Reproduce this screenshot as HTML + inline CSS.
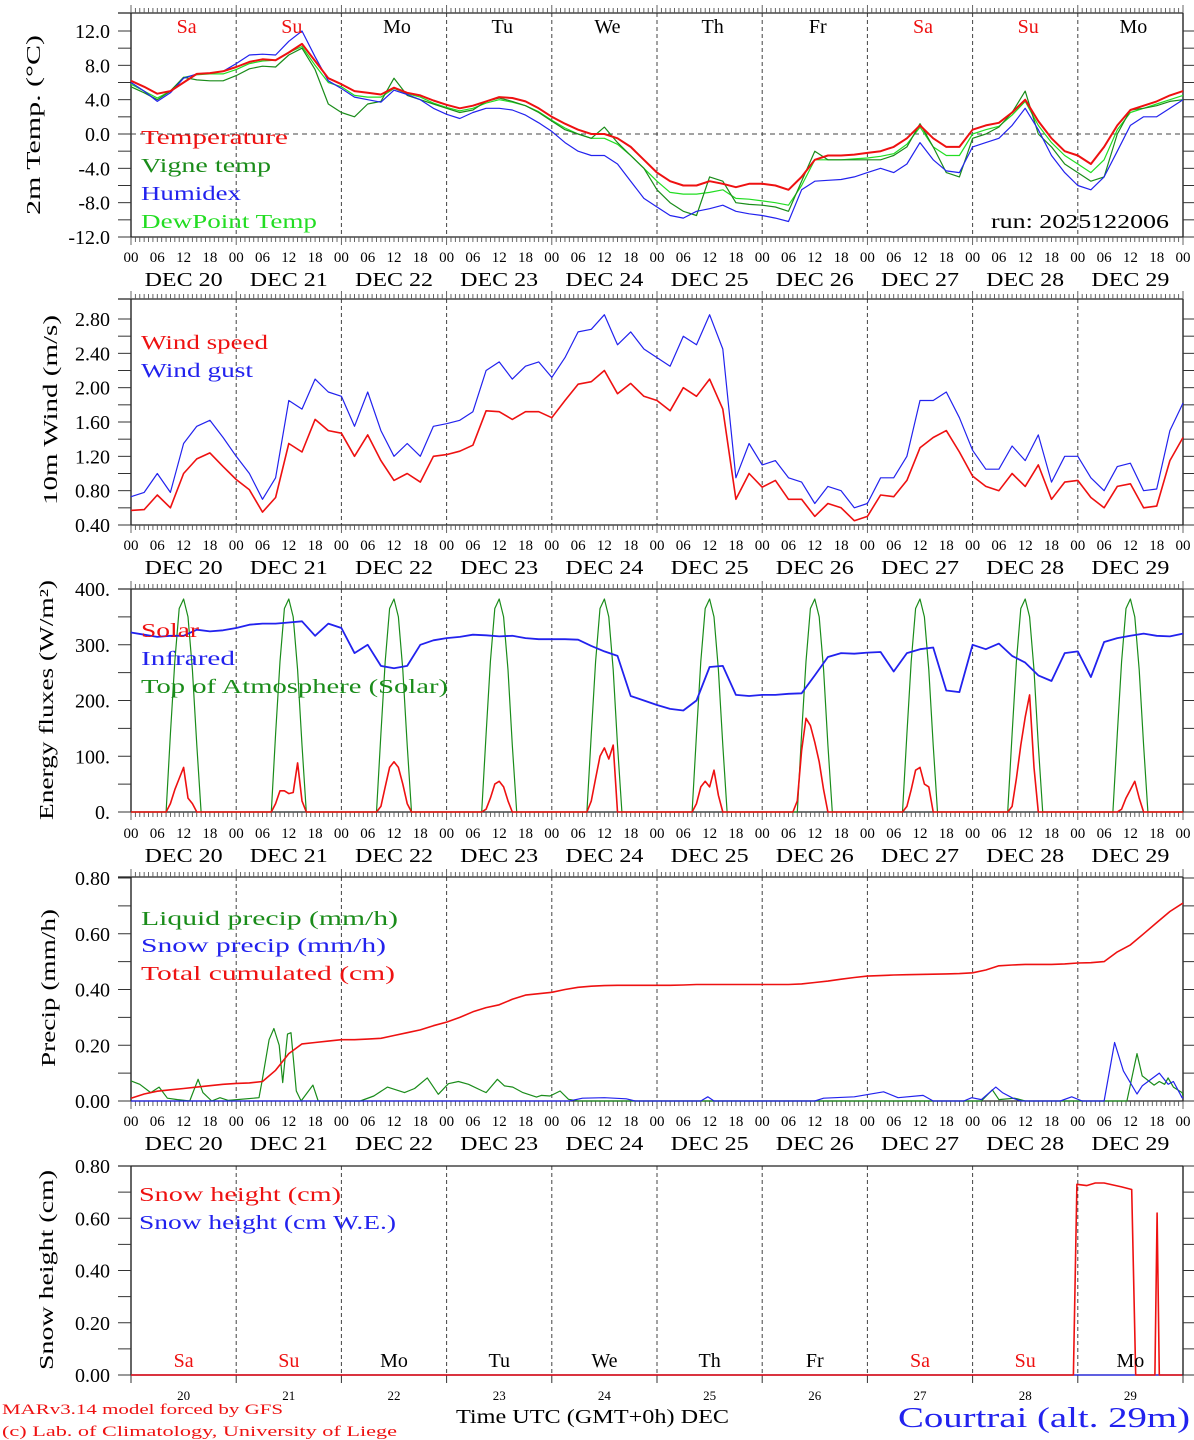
<!DOCTYPE html>
<html><head><meta charset="utf-8"><title>MAR meteogram Courtrai</title>
<style>
html,body{margin:0;padding:0;background:#fff;}
svg{display:block;font-family:"Liberation Serif","DejaVu Serif",serif;}
</style></head>
<body>
<svg id="chart" xmlns="http://www.w3.org/2000/svg" width="1194" height="1440" viewBox="0 0 1194 1440"></svg>
<script>
// ---------- DATA ----------
const dayNames = ["Sa","Su","Mo","Tu","We","Th","Fr","Sa","Su","Mo"];
const dayNums = ["20","21","22","23","24","25","26","27","28","29"];
const hourLabels = ["00","06","12","18"];
// 3-hourly series, h = 0,3,...,240
const temperature = [6.2,5.5,4.7,5.0,6.0,7.0,7.1,7.3, 7.8,8.4,8.7,8.6,9.5,10.5,8.5,6.5, 5.8,5.0,4.8,4.6,5.4,4.8,4.5,3.9, 3.4,3.0,3.3,3.8,4.3,4.2,3.8,3.0, 2.0,1.2,0.5,0.0,0.0,-0.5,-1.5,-3.0, -4.5,-5.5,-6.0,-6.0,-5.5,-5.8,-6.2,-5.8, -5.8,-6.0,-6.5,-5.0,-3.0,-2.5,-2.5,-2.4, -2.2,-2.0,-1.5,-0.5,1.0,-0.5,-1.5,-1.5, 0.5,1.0,1.3,2.5,4.0,1.5,-0.5,-2.0, -2.5,-3.5,-1.5,1.0,2.8,3.3,3.8,4.5,5.0];
const vigneTemp = [5.5,4.8,4.0,5.0,6.6,6.3,6.2,6.2, 6.8,7.6,7.9,7.8,9.2,10.0,7.5,3.5, 2.5,2.0,3.5,3.8,6.5,4.5,4.0,3.5, 3.0,2.5,2.8,3.8,4.2,3.8,3.3,2.5, 1.5,0.5,0.0,-0.5,0.8,-1.0,-2.5,-4.0, -6.5,-8.0,-9.0,-9.5,-5.0,-5.5,-8.0,-8.2, -8.3,-8.5,-9.0,-5.5,-2.0,-3.0,-3.0,-3.0, -3.0,-3.0,-2.5,-1.5,1.2,-1.5,-4.5,-5.0, -0.5,0.0,0.8,2.5,5.0,0.0,-1.5,-3.5, -4.5,-5.5,-5.0,0.0,2.8,3.0,3.3,3.8,4.0];
const humidex = [6.0,5.0,3.8,4.8,6.5,7.0,7.1,7.3, 8.2,9.2,9.3,9.2,10.8,12.0,9.0,6.2, 5.3,4.3,4.0,3.7,5.1,4.6,4.0,3.0, 2.3,1.8,2.5,3.0,3.0,2.8,2.2,1.3, 0.3,-1.0,-2.0,-2.5,-2.5,-3.5,-5.5,-7.5, -8.5,-9.5,-9.8,-9.0,-8.7,-8.3,-9.0,-9.3, -9.5,-9.8,-10.2,-6.5,-5.5,-5.4,-5.3,-5.0, -4.5,-4.0,-4.5,-3.5,-1.0,-3.0,-4.3,-4.5, -1.5,-1.0,-0.5,1.0,3.0,0.5,-2.5,-4.5, -6.0,-6.5,-5.0,-2.0,1.0,2.0,2.0,3.0,4.0];
const dewPoint = [5.8,5.0,4.2,5.0,6.6,6.9,7.0,7.0, 7.5,8.2,8.5,8.6,9.5,10.2,8.0,6.0, 5.5,4.5,4.3,4.3,5.3,4.7,4.3,3.6, 3.1,2.7,3.0,3.6,4.0,3.7,3.3,2.6, 1.6,0.7,0.0,-0.5,-0.5,-1.2,-2.5,-4.0, -5.5,-6.8,-7.0,-7.0,-6.8,-6.5,-7.5,-7.6, -7.8,-8.0,-8.3,-6.0,-3.0,-3.0,-3.0,-2.9, -2.8,-2.6,-2.3,-1.2,0.8,-1.5,-2.5,-2.5, 0.0,0.5,0.9,2.2,3.8,1.0,-1.0,-2.5, -3.5,-4.5,-3.0,0.5,2.5,3.0,3.5,4.0,4.5];
const windSpeed = [0.57,0.58,0.75,0.60,1.0,1.17,1.24,1.08, 0.93,0.81,0.55,0.72,1.35,1.25,1.63,1.5, 1.47,1.2,1.45,1.15,0.92,1.0,0.9,1.2, 1.22,1.26,1.33,1.73,1.72,1.63,1.72,1.72, 1.65,1.85,2.04,2.07,2.2,1.93,2.05,1.9, 1.85,1.73,2.0,1.9,2.1,1.75,0.7,1.0, 0.84,0.92,0.70,0.7,0.5,0.65,0.6,0.45, 0.5,0.75,0.73,0.92,1.3,1.42,1.5,1.25, 0.97,0.85,0.8,1.0,0.85,1.1,0.7,0.9, 0.92,0.72,0.6,0.85,0.88,0.6,0.62,1.15,1.42];
const windGust = [0.73,0.78,1.0,0.78,1.35,1.55,1.62,1.42, 1.2,1.0,0.70,0.95,1.85,1.75,2.1,1.95, 1.9,1.55,1.95,1.5,1.2,1.35,1.2,1.55, 1.58,1.62,1.72,2.2,2.3,2.1,2.25,2.3, 2.12,2.35,2.65,2.68,2.85,2.5,2.65,2.45, 2.35,2.25,2.6,2.5,2.85,2.45,0.95,1.35, 1.1,1.15,0.95,0.9,0.65,0.85,0.8,0.6, 0.65,0.95,0.95,1.2,1.85,1.85,1.95,1.65, 1.27,1.05,1.05,1.32,1.15,1.45,0.9,1.2, 1.2,0.95,0.8,1.08,1.12,0.8,0.82,1.5,1.82];
const infrared = [322,318,314,316,316,327,324,326, 330,336,338,338,340,342,316,338, 330,285,300,262,258,262,300,308, 312,314,318,317,315,316,312,310, 310,310,309,298,288,280,208,200, 192,185,182,200,260,262,210,208, 210,210,212,213,245,278,285,284, 286,287,252,285,292,295,218,215, 300,292,302,280,268,245,235,285, 288,242,305,312,316,320,316,315,320];
// solar: hourly values for hours 8..16 of each day
const solarDays = [[0,15,40,60,80,25,15,0,0],[0,15,38,38,33,35,88,20,0],[0,10,45,80,90,80,50,15,0],[0,5,25,50,55,45,20,0,0],[0,20,60,100,115,95,120,0,0],[0,15,45,55,45,75,30,0,0],[20,110,168,155,125,90,40,0,0],[0,10,40,75,80,50,45,0,0],[0,10,60,120,170,210,80,0,0],[0,0,5,25,40,55,25,0,0]];
const toaProfile = [0,140,270,365,382,350,255,120,0]; // hours 8..16
const totalCum = [0.01,0.025,0.035,0.04,0.045,0.05,0.055,0.06, 0.063,0.065,0.07,0.11,0.17,0.205,0.21,0.215, 0.22,0.22,0.222,0.225,0.235,0.245,0.255,0.27, 0.283,0.30,0.32,0.335,0.345,0.365,0.38,0.385, 0.39,0.40,0.408,0.412,0.414,0.415,0.415,0.415, 0.415,0.415,0.416,0.418,0.418,0.418,0.418,0.418, 0.418,0.418,0.418,0.42,0.425,0.43,0.437,0.443, 0.448,0.45,0.452,0.453,0.454,0.455,0.456,0.457, 0.46,0.47,0.485,0.488,0.49,0.49,0.49,0.492, 0.495,0.496,0.5,0.535,0.56,0.6,0.64,0.68,0.71];
const liqHours = [0,2,4.5,6.4,8.3,10.6,13.4,15.3,16.4,18.4,20.3,22.2,29.2,29.9,31.5,32.6,33.8,34.6,35.7,36.5,37.7,38.8,41.5,42.7,52.3,55.4,58.5,62.4,64.7,67.6,70.1,72.4,74.7,77,80.2,81,83.6,85.2,87.1,89.4,92.5,93.6,95.6,97.9,99.8,102,194,196.5,198,201.6,204,227.2,229.5,230.7,233.4,234.6,235.8,236.6,237.8,239.8,240];
const liqVals = [0.072,0.06,0.03,0.05,0.01,0.005,0,0.078,0.03,0,0.012,0.002,0.012,0.072,0.22,0.26,0.2,0.066,0.24,0.245,0.036,0,0.057,0,0,0.018,0.05,0.03,0.045,0.083,0.024,0.062,0.07,0.06,0.036,0.03,0.078,0.054,0.05,0.03,0.014,0.02,0.018,0.036,0.006,0,0,0.04,0.005,0.01,0,0,0.17,0.09,0.057,0.07,0.06,0.083,0.05,0.03,0.02];
const snowHours = [0,100,103,108,113,115,130,131.6,133,156,158,165,171.7,175,180.7,183,190,191.8,194,197.3,198.8,201.2,203,212,214.6,217,222,224.4,226.4,229.5,230.7,234.6,236.6,237.8,239.8,240];
const snowVals = [0,0,0.01,0.012,0.008,0,0,0.015,0,0,0.01,0.015,0.033,0.012,0.02,0,0,0.012,0.005,0.05,0.03,0.01,0,0,0.015,0,0,0.21,0.108,0.025,0.054,0.1,0.06,0.07,0.012,0.01];
const snowHHours = [0,215,215.8,218,220,222,226,228.3,229.2,233.6,234.1,234.6,239.8];
const snowHVals = [0,0,0.73,0.725,0.735,0.735,0.72,0.71,0,0,0.62,0,0];
const snowWEHours = [0,239.8];
const snowWEVals = [0,0];
const t1Ticks = [-12,-8,-4,0,4,8,12];
const t2Ticks = [0.4,0.8,1.2,1.6,2.0,2.4,2.8];
const t3Ticks = [0,100,200,300,400];
const t4Ticks = [0,0.2,0.4,0.6,0.8];

// ---------- DRAW ----------
const svg = document.getElementById('chart');
const NS = 'http://www.w3.org/2000/svg';
const X0 = 131, DW = 105.2;
const X = h => X0 + h*DW/24;
function el(tag, attrs, parent){ const e=document.createElementNS(NS,tag); for(const k in attrs) e.setAttribute(k,attrs[k]); (parent||svg).appendChild(e); return e; }
function txt(s, x, y, opts, name){
  const t = el('text', {x:x, y:y, 'font-size':opts.size||20, fill:opts.fill||'#000', 'text-anchor':opts.anchor||'start'});
  if(opts.len){ t.setAttribute('textLength', opts.len); t.setAttribute('lengthAdjust','spacingAndGlyphs'); }
  if(opts.rot) t.setAttribute('transform', 'rotate(-90 '+x+' '+y+')');
  t.textContent = s;
  
  
  return t;
}
function polyline(hours, vals, yf, color, w, name){
  const pts = hours.map((h,i)=> X(h).toFixed(1)+','+yf(vals[i]).toFixed(1)).join(' ');
  const p = el('polyline', {points:pts, fill:'none', stroke:color, 'stroke-width':w, 'stroke-linejoin':'round'});
  
  
  return p;
}
const h3 = temperature.map((_,i)=>i*3);

const panels = [
  {top:13, bot:237, y:v=>237-(v+12)*206/24, ticks:t1Ticks, minor:2, fmt:v=>v.toFixed(1), hl:257, dl:279, title:'2m Temp. (°C)', tx:40, ty:125, tlen:180},
  {top:299, bot:525, y:v=>525-(v-0.4)*85.83, ticks:t2Ticks, minor:0.2, fmt:v=>v.toFixed(2), hl:545, dl:567, title:'10m Wind (m/s)', tx:57, ty:410, tlen:190},
  {top:589, bot:812, y:v=>812-v*0.5575, ticks:t3Ticks, minor:50, fmt:v=>v.toFixed(0)+'.', hl:833, dl:855, title:'Energy fluxes (W/m²)', tx:53, ty:700, tlen:240},
  {top:877, bot:1101, y:v=>1101-v*278.75, ticks:t4Ticks, minor:0.1, fmt:v=>v.toFixed(2), hl:1121, dl:1143, title:'Precip (mm/h)', tx:55, ty:988, tlen:158},
  {top:1166, bot:1375, y:v=>1375-v*261.25, ticks:t4Ticks, minor:0.1, fmt:v=>v.toFixed(2), title:'Snow height (cm)', tx:53, ty:1270, tlen:200, last:true}
];

panels.forEach((p, pi)=>{
  const g = el('g', {});
  
  
  const R = X(240);
  for(let d=1; d<10; d++) el('line', {x1:X(d*24), x2:X(d*24), y1:p.top, y2:p.bot, stroke:'#444', 'stroke-width':1, 'stroke-dasharray':'4,3'}, g);
  el('line', {x1:X0, x2:X0, y1:p.top, y2:p.bot, stroke:'#666', 'stroke-width':2}, g);
  el('line', {x1:R, x2:R, y1:p.top, y2:p.bot, stroke:'#666', 'stroke-width':2}, g);
  el('line', {x1:118, x2:R, y1:p.top, y2:p.top, stroke:'#222', 'stroke-width':1.2}, g);
  el('line', {x1:X0, x2:R, y1:p.bot, y2:p.bot, stroke:'#222', 'stroke-width':1.2}, g);
  if(!p.last){
    for(let h=0; h<=240; h++){
      const L = (h%24===0)?8:5;
      el('line', {x1:X(h), x2:X(h), y1:p.top-L, y2:p.top, stroke:'#555', 'stroke-width':0.9}, g);
      el('line', {x1:X(h), x2:X(h), y1:p.bot, y2:p.bot+L, stroke:'#555', 'stroke-width':0.9}, g);
    }
  } else {
    for(let d=0; d<=10; d++) el('line', {x1:X(d*24), x2:X(d*24), y1:p.bot, y2:p.bot+8, stroke:'#333', 'stroke-width':1}, g);
  }
  for(let v=p.ticks[0]; v<=p.ticks[p.ticks.length-1]+1e-9; v+=p.minor){
    const y = p.y(v);
    el('line', {x1:118, x2:X0, y1:y, y2:y, stroke:'#333', 'stroke-width':1}, g);
    el('line', {x1:R, x2:R+11, y1:y, y2:y, stroke:'#333', 'stroke-width':1}, g);
  }
  p.ticks.forEach(v=>{ txt(p.fmt(v), 110, p.y(v)+7, {size:20, anchor:'end'}, 'y-tick-label'); });
  txt(p.title, p.tx, p.ty, {size:20, anchor:'middle', rot:true, len:p.tlen}, 'y-axis-title');
  if(!p.last){
    for(let d=0; d<10; d++){
      hourLabels.forEach((s,i)=> txt(s, X(d*24+i*6), p.hl+5, {size:15, anchor:'middle'}, 'x-hour-label'));
      txt('DEC '+dayNums[d], X(d*24+12), p.dl+7, {size:20, anchor:'middle', len:78}, 'x-date-label');
    }
    txt('00', X(240), p.hl+5, {size:15, anchor:'middle'}, 'x-hour-label');
  }
});

// Panel 1
const P1 = panels[0];
el('line', {x1:X0, x2:X(240), y1:P1.y(0), y2:P1.y(0), stroke:'#444', 'stroke-width':1, 'stroke-dasharray':'5,4'});
polyline(h3, dewPoint, P1.y, '#22dd22', 1.2, 'dewpoint-line');
polyline(h3, vigneTemp, P1.y, '#1a8c1a', 1.2, 'vigne-temp-line');
polyline(h3, humidex, P1.y, '#2222ee', 1.2, 'humidex-line');
polyline(h3, temperature, P1.y, '#ee1111', 2, 'temperature-line');
for(let d=0; d<10; d++){
  const red = dayNames[d]==='Sa'||dayNames[d]==='Su';
  txt(dayNames[d], X(d*24+12)+3, 33, {size:20, anchor:'middle', fill:red?'#ee1111':'#000'}, 'day-name-top');
}
txt('Temperature', 141, 144, {size:20, fill:'#ee1111', len:147}, 'legend-temperature');
txt('Vigne temp', 141, 172, {size:20, fill:'#1a8c1a', len:130}, 'legend-vigne-temp');
txt('Humidex', 141, 200, {size:20, fill:'#2222ee', len:100}, 'legend-humidex');
txt('DewPoint Temp', 141, 228, {size:20, fill:'#22dd22', len:176}, 'legend-dewpoint');
txt('run: 2025122006', 991, 228, {size:20, len:178}, 'run-label');

// Panel 2
const P2 = panels[1];
polyline(h3, windGust, P2.y, '#2222ee', 1.2, 'wind-gust-line');
polyline(h3, windSpeed, P2.y, '#ee1111', 1.6, 'wind-speed-line');
txt('Wind speed', 141, 349, {size:20, fill:'#ee1111', len:127}, 'legend-wind-speed');
txt('Wind gust', 141, 377, {size:20, fill:'#2222ee', len:112}, 'legend-wind-gust');

// Panel 3
const P3 = panels[2];
const hrs = [], toaV = [], solV = [];
for(let d=0; d<10; d++) for(let h=0; h<24; h++){
  hrs.push(d*24+h);
  const k = h-8;
  toaV.push(k>=0 && k<9 ? toaProfile[k] : 0);
  solV.push(k>=0 && k<9 ? solarDays[d][k] : 0);
}
hrs.push(240); toaV.push(0); solV.push(0);
polyline(hrs, toaV, P3.y, '#1a8c1a', 1.2, 'toa-solar-line');
polyline(hrs, solV, P3.y, '#ee1111', 1.6, 'solar-line');
polyline(h3, infrared, P3.y, '#2222ee', 1.8, 'infrared-line');
txt('Solar', 141, 637, {size:20, fill:'#ee1111', len:58}, 'legend-solar');
txt('Infrared', 141, 665, {size:20, fill:'#2222ee', len:94}, 'legend-infrared');
txt('Top of Atmosphere (Solar)', 141, 693, {size:20, fill:'#1a8c1a', len:307}, 'legend-toa');

// Panel 4
const P4 = panels[3];
polyline(liqHours, liqVals, P4.y, '#1a8c1a', 1.2, 'liquid-precip-line');
polyline(snowHours, snowVals, P4.y, '#2222ee', 1.2, 'snow-precip-line');
polyline(h3, totalCum, P4.y, '#ee1111', 1.6, 'total-cumulated-line');
txt('Liquid precip (mm/h)', 141, 925, {size:20, fill:'#1a8c1a', len:257}, 'legend-liquid-precip');
txt('Snow precip (mm/h)', 141, 952, {size:20, fill:'#2222ee', len:245}, 'legend-snow-precip');
txt('Total cumulated (cm)', 141, 980, {size:20, fill:'#ee1111', len:254}, 'legend-total-cumulated');

// Panel 5
const P5 = panels[4];
polyline(snowWEHours, snowWEVals, P5.y, '#2222ee', 1.2, 'snow-height-we-line');
polyline(snowHHours, snowHVals, P5.y, '#ee1111', 1.6, 'snow-height-line');
txt('Snow height (cm)', 139, 1201, {size:20, fill:'#ee1111', len:202}, 'legend-snow-height');
txt('Snow height (cm W.E.)', 139, 1229, {size:20, fill:'#2222ee', len:257}, 'legend-snow-height-we');
for(let d=0; d<10; d++){
  const red = dayNames[d]==='Sa'||dayNames[d]==='Su';
  txt(dayNames[d], X(d*24+12), 1367, {size:20, anchor:'middle', fill:red?'#ee1111':'#000'}, 'day-name-bottom');
  txt(dayNums[d], X(d*24+12), 1400, {size:13, anchor:'middle'}, 'date-number');
}
txt('MARv3.14 model forced by GFS', 2, 1414, {size:15, fill:'#ee1111', len:281}, 'model-credit');
txt('(c) Lab. of Climatology, University of Liege', 2, 1436, {size:15, fill:'#ee1111', len:395}, 'lab-credit');
txt('Time UTC (GMT+0h) DEC', 456, 1423, {size:20, len:273}, 'x-axis-title');
txt('Courtrai (alt. 29m)', 898, 1427, {size:28, fill:'#2222ee', len:292}, 'station-name');
</script>
</body></html>
